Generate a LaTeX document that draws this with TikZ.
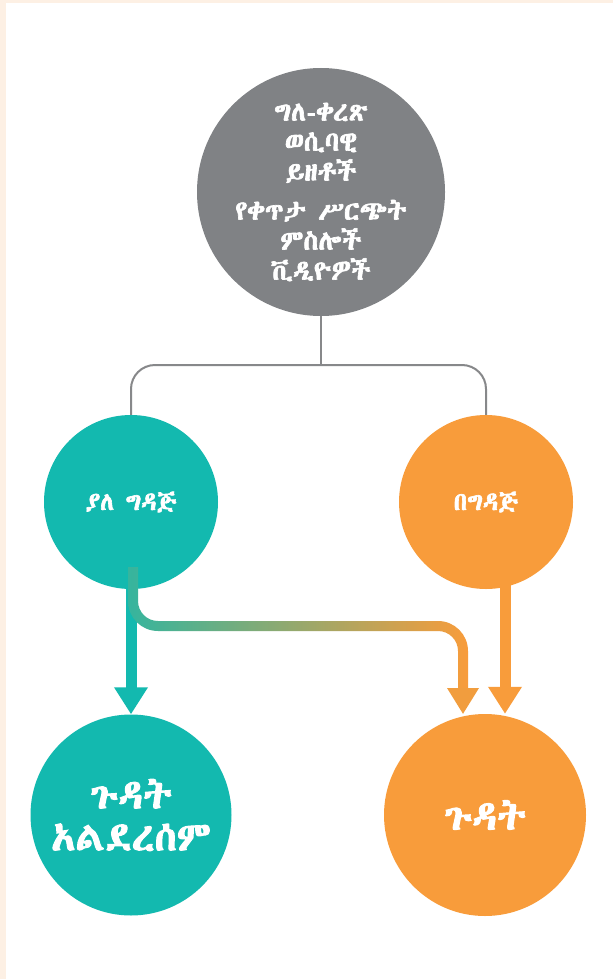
\documentclass[tikz,border=0pt]{standalone}
\usepackage{fontspec}
\usetikzlibrary{arrows.meta,calc}
\IfFontExistsTF{Abyssinica SIL}{\newfontfamily\ethfont[AutoFakeBold=2.5]{Abyssinica SIL}}{%
  \newfontfamily\ethfont[AutoFakeBold=2.5]{FreeSerif}}
\definecolor{tealc}{HTML}{13B9AF}
\definecolor{orangec}{HTML}{F89C3B}
\definecolor{grayc}{HTML}{808285}
\definecolor{linec}{HTML}{87888A}
\definecolor{peach}{HTML}{FDF0E4}
\tikzset{
  bubble/.style={circle, inner sep=0pt, text=white, align=center},
  thinlink/.style={draw=linec, line width=2pt, rounded corners=24pt},
  fatarrow/.style={line width=11pt, -{Triangle[length=27pt,width=32pt]}},
  topfont/.style={font=\ethfont\bfseries\fontsize{27}{30}\selectfont},
  midfont/.style={font=\ethfont\bfseries\fontsize{25}{28}\selectfont},
  bigfont/.style={font=\ethfont\bfseries\fontsize{40}{42}\selectfont},
}
\begin{document}
\begin{tikzpicture}[x=1pt,y=-1pt]
\fill[white] (0,0) rectangle (613,979);
\useasboundingbox (0,0) rectangle (613,979);
\fill[peach] (0,0) rectangle (613,3);
\fill[peach] (0,0) rectangle (5.5,979);

\node[bubble, topfont, fill=grayc, minimum size=248pt] (top) at (321,192)
  {ግለ-ቀረጽ\\ ወሲባዊ\\ ይዘቶች\\[9pt] የቀጥታ ሥርጭት\\ ምስሎች\\ ቪዲዮዎች};
\node[bubble, midfont, fill=tealc, minimum size=174pt] (ml) at (131,502) {ያለ ግዳጅ};
\node[bubble, midfont, fill=orangec, minimum size=174pt] (mr) at (486,502) {በግዳጅ};
\node[bubble, bigfont, fill=tealc, minimum size=201pt] (bl) at (131,815) {ጉዳት\\ አልደረሰም};
\node[bubble, bigfont, fill=orangec, minimum size=202pt] (br) at (485,815) {ጉዳት};

\coordinate (split) at (321,365);
\draw[thinlink] (top.south) -- (split);
\draw[thinlink] (ml.north) |- (split) -| (mr.north);

% teal arrow
\draw[fatarrow, draw=tealc, fill=tealc] ([yshift=20pt]ml.south) -- (bl.north);
% orange arrow
\coordinate (ostart) at ([xshift=19pt,yshift=10pt]mr.south);
\coordinate (oend) at ([xshift=20pt]br.north);
\draw[fatarrow, draw=orangec, fill=orangec] (ostart) -- (oend);

% gradient arrow
\coordinate (gtip) at ([xshift=-22pt]br.north);
\shade[left color=tealc!85!orangec, right color=orangec]
  (128,567) -- (128,601) arc (180:90:30) -- (438,631) arc (-90:0:20)
  -- (458,689) -- (468,689) -- (468,651) arc (0:-90:30) -- (158,621)
  arc (90:180:20) -- (138,567) -- cycle;
\fill[orangec!97!tealc] (447,688) -- (479,688) -- (gtip) -- cycle;
\end{tikzpicture}
\end{document}
